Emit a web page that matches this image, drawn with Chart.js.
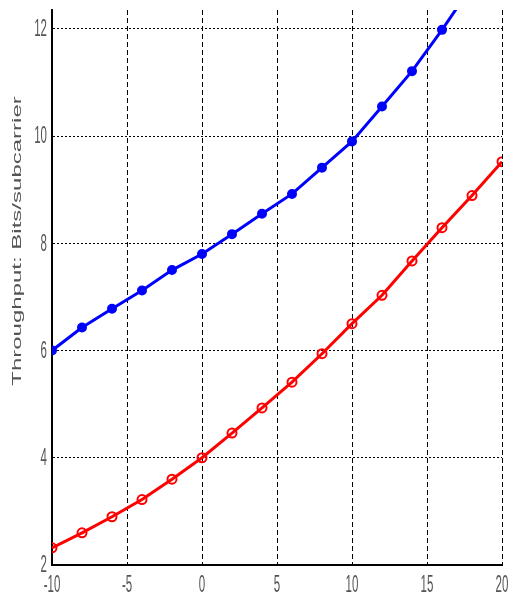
<!DOCTYPE html>
<html>
<head>
<meta charset="utf-8">
<script src="https://cdn.jsdelivr.net/npm/chart.js@4/dist/chart.umd.min.js"></script>
<style>
  html, body { margin: 0; padding: 0; background: #fff; }
  #wrap { width: 510px; height: 599px; }
</style>
</head>
<body>
<div id="wrap"><canvas id="chart" width="510" height="599"></canvas></div>
<script>
// values
const snrValues = [-10, -8, -6, -4, -2, 0, 2, 4, 6, 8, 10, 12, 14, 16, 18, 20];
const blueValues = [6.0, 6.43, 6.78, 7.12, 7.5, 7.8, 8.17, 8.55, 8.92, 9.41, 9.9, 10.55, 11.21, 11.98, 12.8, 13.7];
const redValues = [2.32, 2.6, 2.9, 3.22, 3.6, 4.0, 4.46, 4.93, 5.41, 5.94, 6.5, 7.03, 7.67, 8.29, 8.89, 9.52];
const xTicks = [-10, -5, 0, 5, 10, 15, 20];
const yTicks = [2, 4, 6, 8, 10, 12];
const yTitle = 'Throughput: Bits/subcarrier';

function toPoints(xs, ys) {
  return xs.map((x, i) => ({ x: x, y: ys[i] }));
}

// the source picture is stretched vertically, so the text is drawn stretched too
const stretchedLabels = {
  id: 'stretchedLabels',
  afterDraw(chart) {
    const ctx = chart.ctx;
    const xs = chart.scales.x;
    const ys = chart.scales.y;
    ctx.save();
    ctx.fillStyle = '#555';
    ctx.font = '11.5px "Liberation Sans", Arial, sans-serif';
    ctx.textBaseline = 'middle';

    ctx.textAlign = 'right';
    yTicks.forEach((v) => {
      ctx.save();
      ctx.translate(ys.left + ys.width - 5, ys.getPixelForValue(v) + 1);
      ctx.scale(1, 2);
      ctx.fillText(String(v), 0, 0);
      ctx.restore();
    });

    ctx.textAlign = 'center';
    xTicks.forEach((v) => {
      ctx.save();
      ctx.translate(xs.getPixelForValue(v), xs.top + 21);
      ctx.scale(1, 2);
      ctx.fillText(String(v), 0, 0);
      ctx.restore();
    });

    ctx.font = '12px "Liberation Sans", Arial, sans-serif';
    ctx.translate(18, 241);
    ctx.rotate(-Math.PI / 2);
    ctx.scale(2, 1);
    ctx.fillText(yTitle, 0, 0);
    ctx.restore();
  },
};

new Chart(document.getElementById('chart').getContext('2d'), {
  type: 'line',
  data: {
    datasets: [
      {
        data: toPoints(snrValues, blueValues),
        borderColor: '#0000ff',
        backgroundColor: '#0000ff',
        borderWidth: 3,
        pointRadius: 3.5,
        pointStyle: 'circle',
        tension: 0,
      },
      {
        data: toPoints(snrValues, redValues),
        borderColor: '#ff0000',
        backgroundColor: 'rgba(0,0,0,0)',
        borderWidth: 3,
        pointRadius: 4.5,
        pointBorderWidth: 2,
        pointStyle: 'circle',
        tension: 0,
      },
    ],
  },
  options: {
    responsive: false,
    animation: false,
    layout: { padding: { top: 10, right: 8, left: 0, bottom: 0 } },
    plugins: { legend: { display: false }, tooltip: { enabled: false } },
    scales: {
      x: {
        type: 'linear',
        min: -10,
        max: 20,
        afterBuildTicks: (scale) => {
          scale.ticks = xTicks.map((v) => ({ value: v }));
        },
        afterFit: (scale) => {
          scale.height = 34;
        },
        ticks: { display: false },
        grid: { color: '#000', lineWidth: 1, drawTicks: false },
        border: { color: '#000', width: 2, dash: [5, 3] },
      },
      y: {
        type: 'linear',
        min: 2,
        max: 12.35,
        afterBuildTicks: (scale) => {
          scale.ticks = yTicks.map((v) => ({ value: v }));
        },
        afterFit: (scale) => {
          scale.width = 52;
        },
        ticks: { display: false },
        grid: { color: '#000', lineWidth: 1, drawTicks: false },
        border: { color: '#000', width: 2, dash: [2, 2] },
      },
    },
  },
  plugins: [stretchedLabels],
});
</script>
</body>
</html>
